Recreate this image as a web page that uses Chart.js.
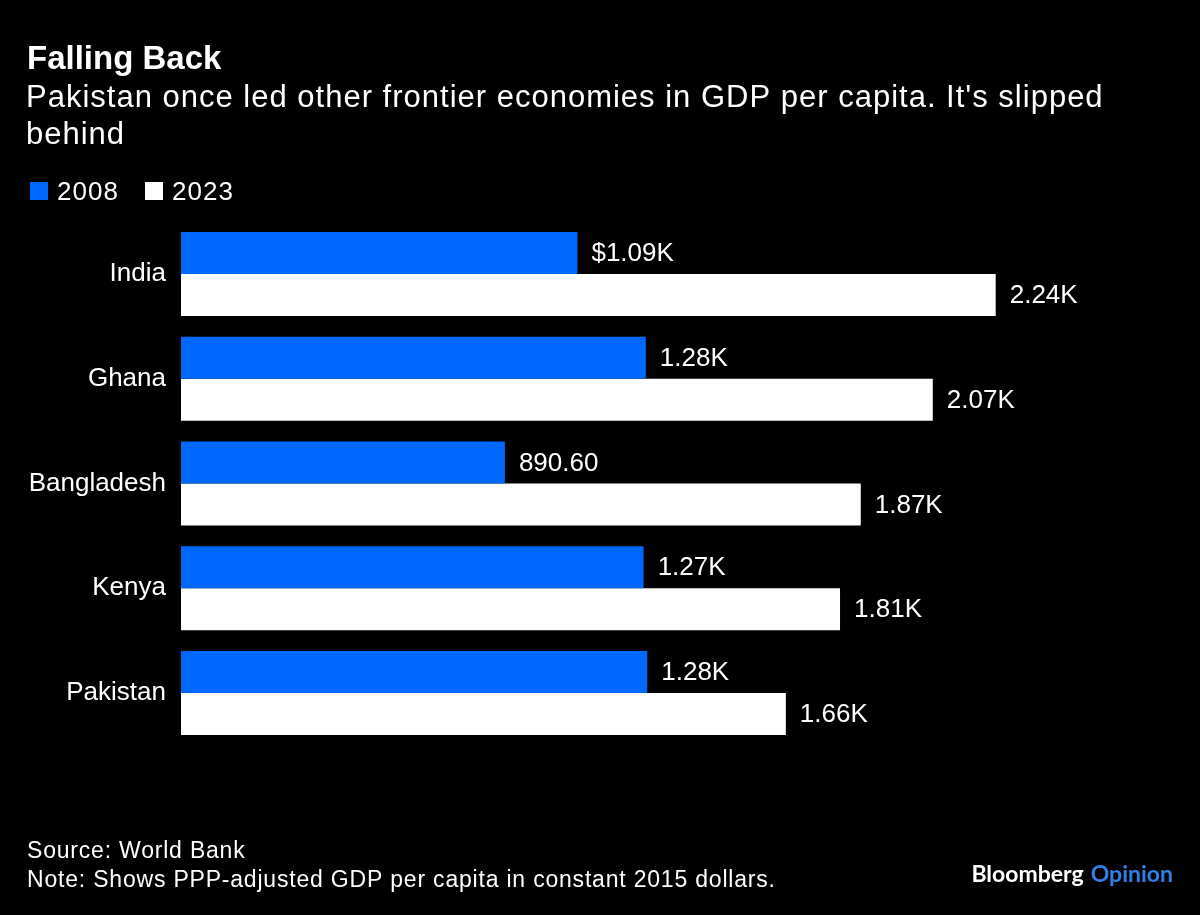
<!DOCTYPE html>
<html>
<head>
<meta charset="utf-8">
<script src="https://cdn.jsdelivr.net/npm/chart.js@4.4.1/dist/chart.umd.min.js"></script>
<style>
  html, body { margin: 0; padding: 0; background: #000; }
  #wrap { position: absolute; left: 0; top: 0; width: 1200px; height: 915px; }
</style>
</head>
<body>
<div id="wrap"><canvas id="c" width="1200" height="915"></canvas></div>
<script>
const categories = ['India', 'Ghana', 'Bangladesh', 'Kenya', 'Pakistan'];
const values2008 = [1090, 1278, 890.6, 1272, 1282];
const values2023 = [2240, 2067, 1869, 1812, 1663];
const seriesNames = ['2008', '2023'];
const seriesColors = ['#0068ff', '#ffffff'];

const titleText = 'Falling Back';
const subtitleLines = ["Pakistan once led other frontier economies in GDP per capita. It's slipped", 'behind'];
const footerLines = ['Source: World Bank', 'Note: Shows PPP-adjusted GDP per capita in constant 2015 dollars.'];

const FONT = '"Liberation Sans", Arial, Helvetica, sans-serif';

function fmt(v, first) {
  let s = v >= 1000 ? (v / 1000).toFixed(2) + 'K' : v.toFixed(2);
  return first ? '$' + s : s;
}

const textPlugin = {
  id: 'texts',
  afterDraw(chart) {
    const ctx = chart.ctx;
    ctx.save();
    ctx.fillStyle = '#ffffff';
    ctx.textAlign = 'left';
    ctx.textBaseline = 'alphabetic';
    // title
    ctx.font = 'bold 33px ' + FONT;
    ctx.letterSpacing = '0px';
    ctx.fillText(titleText, 27, 69);
    // subtitle
    ctx.font = '31px ' + FONT;
    ctx.letterSpacing = '1px';
    ctx.fillText(subtitleLines[0], 26, 107);
    ctx.fillText(subtitleLines[1], 26, 144);
    // legend
    ctx.font = '26px ' + FONT;
    ctx.letterSpacing = '1px';
    const legendX = [30, 145];
    seriesNames.forEach((name, i) => {
      const x = legendX[i];
      ctx.fillStyle = seriesColors[i];
      ctx.fillRect(x, 182, 18, 18);
      ctx.fillStyle = '#ffffff';
      ctx.fillText(name, x + 27, 200);
    });
    // footer
    ctx.font = '23px ' + FONT;
    ctx.letterSpacing = '0.8px';
    ctx.fillText(footerLines[0], 27, 858);
    ctx.fillText(footerLines[1], 27, 887);
    // brand
    ctx.letterSpacing = '0px';
    ctx.font = 'bold 23px Lato, ' + FONT;
    ctx.textAlign = 'right';
    ctx.fillStyle = '#2f7fe8';
    ctx.fillText('Opinion', 1173, 882);
    const ow = ctx.measureText('Opinion').width;
    ctx.fillStyle = '#ffffff';
    ctx.fillText('Bloomberg', 1173 - ow - 7, 882);
    ctx.restore();
  }
};

const valueLabelPlugin = {
  id: 'valueLabels',
  afterDatasetsDraw(chart) {
    const ctx = chart.ctx;
    ctx.save();
    ctx.font = '26px ' + FONT;
    ctx.fillStyle = '#ffffff';
    ctx.textAlign = 'left';
    ctx.textBaseline = 'middle';
    chart.data.datasets.forEach((ds, di) => {
      const meta = chart.getDatasetMeta(di);
      meta.data.forEach((el, i) => {
        ctx.fillText(fmt(ds.data[i], di === 0 && i === 0), el.x + 14, el.y + 1);
      });
    });
    ctx.restore();
  }
};

new Chart(document.getElementById('c'), {
  type: 'bar',
  data: {
    labels: categories,
    datasets: [
      { label: seriesNames[0], data: values2008, backgroundColor: seriesColors[0], borderWidth: 0 },
      { label: seriesNames[1], data: values2023, backgroundColor: seriesColors[1], borderWidth: 0 }
    ]
  },
  options: {
    indexAxis: 'y',
    responsive: false,
    animation: false,
    devicePixelRatio: 1,
    categoryPercentage: 0.8,
    barPercentage: 1.0,
    layout: { padding: { left: 0, right: 37, top: 221.6, bottom: 169.6 } },
    plugins: { legend: { display: false }, tooltip: { enabled: false }, title: { display: false } },
    scales: {
      x: { display: false, min: 0, max: 2700 },
      y: {
        grid: { display: false, drawTicks: false },
        border: { display: false },
        ticks: { color: '#ffffff', font: { family: FONT, size: 26 }, padding: 15 },
        afterFit(scale) { scale.width = 181; }
      }
    }
  },
  plugins: [textPlugin, valueLabelPlugin]
});
</script>
</body>
</html>
